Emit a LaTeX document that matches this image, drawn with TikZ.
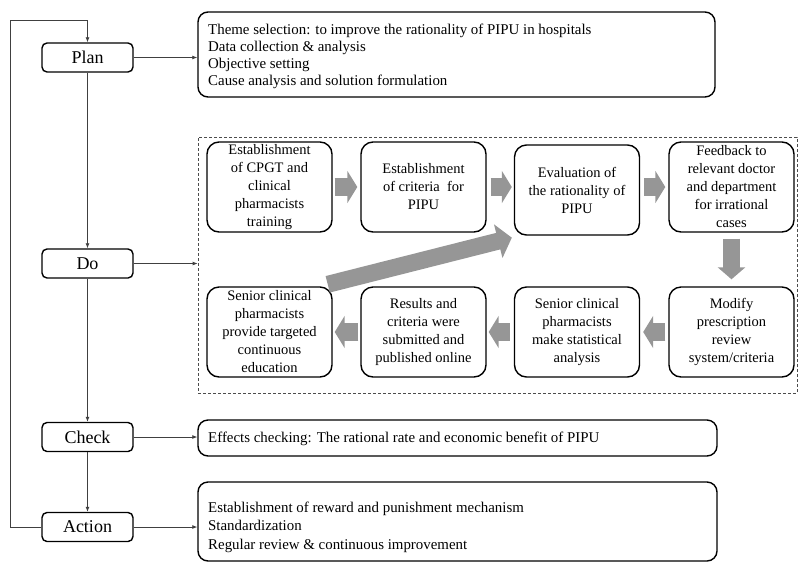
\documentclass[tikz,border=0pt]{standalone}
\usepackage{fontspec}
\setmainfont{Liberation Serif}
\usetikzlibrary{arrows.meta,calc}
\definecolor{arrgray}{RGB}{150,150,150}
\begin{document}
\begin{tikzpicture}[x=1pt,y=-1pt,
 phase/.style={draw, line width=1.4pt, rounded corners=5pt, minimum width=91pt, minimum height=29pt, inner sep=0pt, font=\fontsize{18}{20}\selectfont},
 infobox/.style={draw, line width=1.4pt, rounded corners=10pt, inner sep=0pt},
 infotext/.style={anchor=west, align=left, inner sep=0pt, font=\fontsize{14.9}{16.8}\selectfont},
 stepbox/.style={draw, line width=1.4pt, rounded corners=12pt, minimum width=125pt, minimum height=90pt, inner sep=0pt, align=center, font=\fontsize{14.5}{18}\selectfont},
 conn/.style={draw=black!75, line width=0.8pt, -{Latex[length=5pt,width=4pt]}},
 blockarr/.style={arrgray, line width=18pt, -{Triangle[length=10pt,width=32pt]}},
]
\useasboundingbox (0,0) rectangle (802,563);
% phase boxes
\node[phase] (Plan) at (87.5,57.5) {Plan};
\node[phase] (Do) at (87.5,263.5) {Do};
\node[phase] (Check) at (87.5,437) {Check};
\node[phase] (Action) at (87.5,527) {Action};
% info boxes
\node[infobox, minimum width=517pt, minimum height=85pt] (planbox) at (456.5,54.5) {};
\node[infotext] (plantext) at (208,56.5) {Theme selection: to improve the rationality of PIPU in hospitals\\Data collection \& analysis\\Objective setting\\Cause analysis and solution formulation};
\node[infobox, minimum width=519pt, minimum height=36pt] (checkbox) at (457.5,438) {};
\node[infotext] (checktext) at (208,439) {Effects checking: The rational rate and economic benefit of PIPU};
\node[infobox, minimum width=519pt, minimum height=79pt] (actbox) at (457.5,521.5) {};
\node[infotext, font=\fontsize{14.9}{18.5}\selectfont] (acttext) at (208,527) {Establishment of reward and punishment mechanism\\Standardization\\Regular review \& continuous improvement};
% dashed Do region
\node[draw=black!70, line width=0.8pt, dash pattern=on 3pt off 2pt, minimum width=599pt, minimum height=256pt, inner sep=0pt] (dobox) at (497.5,265) {};
% steps
\node[stepbox] (b1) at (269.5,187) {Establishment\\of CPGT and\\clinical\\pharmacists\\training};
\node[stepbox] (b2) at (423.5,187) {Establishment\\of criteria\ \ for\\PIPU};
\node[stepbox] (b3) at (577,190) {Evaluation of\\the rationality of\\PIPU};
\node[stepbox] (b4) at (731.5,187) {Feedback to\\relevant doctor\\and department\\for irrational\\cases};
\node[stepbox] (b5) at (269.5,332) {Senior clinical\\pharmacists\\provide targeted\\continuous\\education};
\node[stepbox] (b6) at (423.5,332) {Results and\\criteria were\\submitted and\\published online};
\node[stepbox] (b7) at (577,332) {Senior clinical\\pharmacists\\make statistical\\analysis};
\node[stepbox] (b8) at (731.5,332) {Modify\\prescription\\review\\system/criteria};
% block arrows
\draw[blockarr, shorten <=2pt, shorten >=3pt] (b1.east) -- (b2.west);
\draw[blockarr, shorten <=4pt, shorten >=2pt] (b2.east |- b1.east) -- (b3.west |- b1.east);
\draw[blockarr, shorten <=4pt, shorten >=3pt] (b3.east |- b1.east) -- (b4.west);
\draw[arrgray, line width=17pt, -{Triangle[length=12pt,width=27pt]}, shorten <=6pt, shorten >=7pt] (b4.south) -- (b8.north);
\draw[blockarr, shorten <=3pt, shorten >=3pt] (b8.west) -- (b7.east);
\draw[blockarr, shorten <=4pt, shorten >=2pt] (b7.west) -- (b6.east);
\draw[blockarr, shorten <=2pt, shorten >=2pt] (b6.west) -- (b5.east);
\coordinate (dstart) at ($(b5.north east)+(-5,-2)$);
\coordinate (dend) at ($(b3.south west)+(-2,2)$);
\draw[arrgray, line width=17pt, -{Triangle[length=14pt,width=34pt]}] (dstart) -- (dend);
% connectors
\draw[conn] (Plan.east) -- (Plan.east -| planbox.west);
\draw[conn] (Do.east) -- (Do.east -| dobox.west);
\draw[conn] (Check.east) -- (Check.east -| checkbox.west);
\draw[conn] (Action.east) -- (Action.east -| actbox.west);
\draw[conn] (Plan.south) -- (Do.north);
\draw[conn] (Do.south) -- (Check.north);
\draw[conn] (Check.south) -- (Action.north);
\coordinate (loopt) at (10,20);
\draw[conn] (Action.west) -- (Action.west -| loopt) -- (loopt) -| (Plan.north);
\end{tikzpicture}
\end{document}
